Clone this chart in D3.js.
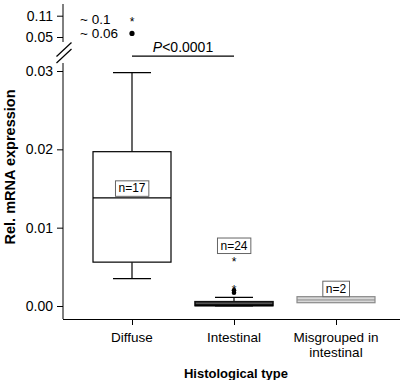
<!DOCTYPE html>
<html>
<head>
<meta charset="utf-8">
<script src="https://cdn.jsdelivr.net/npm/d3@7"></script>
<style>
  html, body { margin: 0; padding: 0; background: #fff; }
  svg { display: block; font-family: "Liberation Sans", Arial, sans-serif; }
  .tick text { font-size: 14px; fill: #000; }
  .tick line, .domain { stroke: #000; }
</style>
</head>
<body>
<div id="chart"></div>
<script>
// Box plot of relative mRNA expression by histological type, with a broken
// y axis: the lower part holds the boxes, the upper part the two far outliers.

const groups = ["Diffuse", "Intestinal", "Misgrouped in intestinal"];
const whiskerLow = [0.0035, 0.0, 0.00042];
const q1 = [0.0056, 0.00005, 0.00042];
const median = [0.0138, 0.0001, 0.00077];
const q3 = [0.0197, 0.00055, 0.00119];
const whiskerHigh = [0.0298, 0.0011, 0.00119];
const nCounts = [17, 24, 2];
// where each "n=" label box sits (data units, bottom edge of the label)
const nLabelAt = [0.0140, 0.0067, 0.00119];

// outliers on the lower scale: circles (°) and extremes (*)
const lowCircles = [{ g: "Intestinal", v: 0.0017 }, { g: "Intestinal", v: 0.0020 }];
const lowStars = [{ g: "Intestinal", v: 0.0024 }, { g: "Intestinal", v: 0.0060 }];
// outliers off the lower scale, drawn on the upper segment
const highPoints = [
  { g: "Diffuse", v: 0.10, kind: "star", label: "~ 0.1" },
  { g: "Diffuse", v: 0.06, kind: "circle", label: "~ 0.06" }
];

const lowTicks = [0, 0.01, 0.02, 0.03];
const highTicks = [0.05, 0.11];
const pText = "<0.0001";
const pPair = ["Diffuse", "Intestinal"];
const pLevel = 0.0319;

const width = 408, height = 380;
const axisX = 63, axisBottom = 319, plotRight = 400;

const svg = d3.select("#chart").append("svg")
  .attr("width", width).attr("height", height);

const x = d3.scalePoint(groups, [132, 336]);
const yLow = d3.scaleLinear([0, 0.03], [306, 71]);
const yHigh = d3.scaleLinear([0.05, 0.11], [37, 15.7]);
const fmt = d3.format(".2f");

// y axis, lower segment
const axLow = svg.append("g").attr("transform", `translate(${axisX},0)`)
  .call(d3.axisLeft(yLow).tickValues(lowTicks).tickFormat(fmt).tickSize(6).tickSizeOuter(0).tickPadding(4));
axLow.select(".domain").remove();
svg.append("line").attr("x1", axisX).attr("x2", axisX)
  .attr("y1", 63).attr("y2", axisBottom).attr("stroke", "#000");

// y axis, upper segment
const axHigh = svg.append("g").attr("transform", `translate(${axisX},0)`)
  .call(d3.axisLeft(yHigh).tickValues(highTicks).tickFormat(fmt).tickSize(6).tickSizeOuter(0).tickPadding(4));
axHigh.select(".domain").remove();
svg.append("line").attr("x1", axisX).attr("x2", axisX)
  .attr("y1", 4).attr("y2", 42).attr("stroke", "#000");

// break marks
[56.5, 63].forEach((y0) => {
  svg.append("line").attr("x1", axisX - 6.5).attr("y1", y0)
    .attr("x2", axisX + 8.5).attr("y2", y0 - 14).attr("stroke", "#000").attr("stroke-width", 1.2);
});

// x axis
const axX = svg.append("g").attr("transform", `translate(0,${axisBottom})`)
  .call(d3.axisBottom(x).tickSize(6).tickSizeOuter(0).tickFormat(""));
axX.select(".domain").attr("d", `M${axisX},0.5H${plotRight}`);

// category labels (last one wraps)
groups.forEach((g) => {
  const lines = g === "Misgrouped in intestinal" ? ["Misgrouped in", "intestinal"] : [g];
  const t = svg.append("text").attr("text-anchor", "middle")
    .attr("font-size", 13.5).attr("x", x(g)).attr("y", 341.5);
  lines.forEach((ln, i) => t.append("tspan").attr("x", x(g)).attr("dy", i ? 15 : 0).text(ln));
});

svg.append("text").attr("text-anchor", "middle").attr("font-weight", "bold")
  .attr("font-size", 13).attr("x", 236).attr("y", 377.5).text("Histological type");
svg.append("text").attr("text-anchor", "middle").attr("font-weight", "bold")
  .attr("font-size", 14.5).attr("transform", "translate(14.5,167) rotate(-90)")
  .text("Rel. mRNA expression");

// boxes
const boxW = 78, capW = 38;
const boxStyle = [
  { fill: "#fff", stroke: "#000", med: "#000", medW: 1.2, sw: 1.2 },
  { fill: "#555", stroke: "#111", med: "#000", medW: 2, sw: 1.6 },
  { fill: "#d8d8d8", stroke: "#8a8a8a", med: "#8a8a8a", medW: 1, sw: 1.2 }
];
groups.forEach((g, i) => {
  const cx = x(g), s = boxStyle[i];
  const box = svg.append("g");
  if (whiskerHigh[i] > q3[i]) {
    box.append("line").attr("x1", cx).attr("x2", cx).attr("y1", yLow(q3[i])).attr("y2", yLow(whiskerHigh[i])).attr("stroke", "#000").attr("stroke-width", 1.2);
    box.append("line").attr("x1", cx - capW / 2).attr("x2", cx + capW / 2).attr("y1", yLow(whiskerHigh[i])).attr("y2", yLow(whiskerHigh[i])).attr("stroke", "#000").attr("stroke-width", 1.2);
  }
  if (whiskerLow[i] < q1[i]) {
    box.append("line").attr("x1", cx).attr("x2", cx).attr("y1", yLow(q1[i])).attr("y2", yLow(whiskerLow[i])).attr("stroke", "#000").attr("stroke-width", 1.2);
    box.append("line").attr("x1", cx - capW / 2).attr("x2", cx + capW / 2).attr("y1", yLow(whiskerLow[i])).attr("y2", yLow(whiskerLow[i])).attr("stroke", "#000").attr("stroke-width", 1.2);
  }
  box.append("rect").attr("x", cx - boxW / 2).attr("width", boxW)
    .attr("y", yLow(q3[i])).attr("height", Math.max(3, yLow(q1[i]) - yLow(q3[i])))
    .attr("fill", s.fill).attr("stroke", s.stroke).attr("stroke-width", s.sw);
  box.append("line").attr("x1", cx - boxW / 2).attr("x2", cx + boxW / 2)
    .attr("y1", yLow(median[i])).attr("y2", yLow(median[i]))
    .attr("stroke", s.med).attr("stroke-width", s.medW);
});

// outlier markers
const star = (sel, cx, cy) => sel.append("text").attr("text-anchor", "middle")
  .attr("font-size", 12).attr("x", cx).attr("y", cy + 7).text("*");
lowCircles.forEach((p) => svg.append("circle").attr("cx", x(p.g)).attr("cy", yLow(p.v)).attr("r", 2.3).attr("fill", "#000"));
lowStars.forEach((p) => star(svg, x(p.g), yLow(p.v)));
highPoints.forEach((p) => {
  const cy = yHigh(p.v);
  if (p.kind === "star") star(svg, x(p.g), cy);
  else svg.append("circle").attr("cx", x(p.g)).attr("cy", cy).attr("r", 2.6).attr("fill", "#000");
  svg.append("text").attr("font-size", 13.5).attr("x", x(p.g) - 52).attr("y", cy + 5).text(p.label);
});

// n labels
groups.forEach((g, i) => {
  const lab = svg.append("g");
  const yb = yLow(nLabelAt[i]);
  const t = lab.append("text").attr("text-anchor", "middle").attr("font-size", 12)
    .attr("x", x(g)).attr("y", yb - 4).text(`n=${nCounts[i]}`);
  const bb = t.node().getBBox();
  lab.insert("rect", "text").attr("x", bb.x - 3).attr("y", yb - 15.5).attr("width", bb.width + 6).attr("height", 15.5)
    .attr("fill", "#fff").attr("stroke", "#666").attr("stroke-width", 1);
});

// significance bar
const py = yLow(pLevel);
svg.append("line").attr("x1", x(pPair[0])).attr("x2", x(pPair[1])).attr("y1", py).attr("y2", py)
  .attr("stroke", "#000").attr("stroke-width", 1.2);
const pt = svg.append("text").attr("text-anchor", "middle").attr("font-size", 14)
  .attr("x", (x(pPair[0]) + x(pPair[1])) / 2).attr("y", py - 4);
pt.append("tspan").attr("font-style", "italic").text("P");
pt.append("tspan").text(pText);
</script>
</body>
</html>
